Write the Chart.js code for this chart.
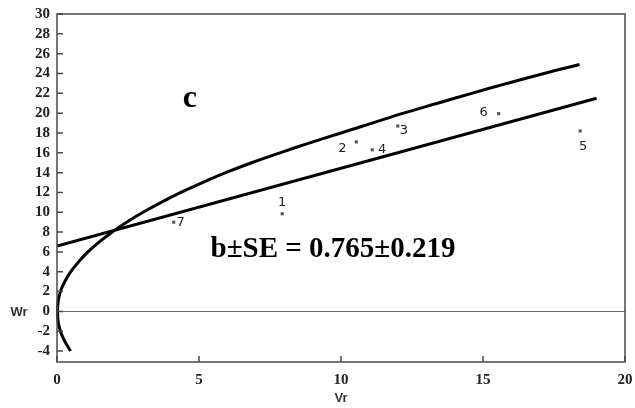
<!DOCTYPE html>
<html>
<head>
<meta charset="utf-8">
<script src="https://cdn.jsdelivr.net/npm/chart.js@4/dist/chart.umd.min.js"></script>
<style>
  html, body { margin: 0; padding: 0; background: #fff; }
  #wrap { width: 635px; height: 408px; }
</style>
</head>
<body>
<div id="wrap"><canvas id="vrwr" width="635" height="408"></canvas></div>
<script>
// parents (array points)
var parentLabels = ['1', '2', '3', '4', '5', '6', '7'];
var parentVr = [7.93, 10.54, 12.0, 11.1, 18.42, 15.55, 4.11];
var parentWr = [9.85, 17.1, 18.7, 16.3, 18.2, 19.95, 9.0];

// regression line ends
var lineVr = [0, 19.0];
var lineWr = [6.6, 21.5];

// limiting parabola, points
var curveWr = [-4, -3, -2, -1, 0, 1, 2, 3, 4, 5, 6, 7, 8, 9, 10, 11, 12, 13, 14, 15, 16, 17, 18, 19, 20, 21, 22, 23, 24, 24.9];
var curveVr = [0.48, 0.27, 0.12, 0.04, 0.02, 0.04, 0.12, 0.27, 0.48, 0.76, 1.09, 1.48, 1.94, 2.45, 3.03, 3.67, 4.36, 5.12, 5.94, 6.85, 7.85, 8.9, 10.0, 11.1, 12.2, 13.4, 14.6, 15.85, 17.15, 18.4];

// axis ticks
var xTicks = [0, 5, 10, 15, 20];
var yTicks = [-4, -2, 0, 2, 4, 6, 8, 10, 12, 14, 16, 18, 20, 22, 24, 26, 28, 30];

// label offsets (px) for the parent numbers
var labelDx = [0, -14, 6, 10, 3, -15, 7];
var labelDy = [-11, 7, 5, 0, 16, -1, 0];

function pairs(xs, ys) {
    return xs.map(function (x, i) { return { x: x, y: ys[i] }; });
}

var extras = {
    id: 'extras',
    afterDraw: function (chart) {
        var ctx = chart.ctx;
        var a = chart.chartArea;
        var xs = chart.scales.x, ys = chart.scales.y;
        ctx.save();
        // frame
        ctx.strokeStyle = '#4a4a4a';
        ctx.lineWidth = 1.5;
        ctx.strokeRect(a.left, a.top, a.right - a.left, a.bottom - a.top);
        // inward ticks
        ctx.beginPath();
        yTicks.forEach(function (v) {
            var py = ys.getPixelForValue(v);
            ctx.moveTo(a.left, py);
            ctx.lineTo(a.left + 6, py);
        });
        xTicks.forEach(function (v) {
            var px = xs.getPixelForValue(v);
            ctx.moveTo(px, a.bottom);
            ctx.lineTo(px, a.bottom - 6);
        });
        ctx.stroke();

        // parent numbers
        ctx.fillStyle = '#222';
        ctx.font = '13px "DejaVu Sans", "Liberation Sans", sans-serif';
        ctx.textAlign = 'center';
        ctx.textBaseline = 'middle';
        parentLabels.forEach(function (t, i) {
            var px = xs.getPixelForValue(parentVr[i]) + labelDx[i];
            var py = ys.getPixelForValue(parentWr[i]) + labelDy[i];
            ctx.fillText(t, px, py);
        });

        // axis names
        ctx.fillStyle = '#333';
        ctx.font = 'bold 13px "Liberation Sans", Arial, sans-serif';
        ctx.fillText('Wr', 19, ys.getPixelForValue(0) + 1);
        ctx.fillText('Vr', xs.getPixelForValue(10), 398);

        // panel letter and slope text
        ctx.fillStyle = '#000';
        ctx.font = 'bold 32px "Liberation Serif", "Times New Roman", serif';
        ctx.fillText('c', xs.getPixelForValue(4.68), ys.getPixelForValue(21.5));
        ctx.font = 'bold 29px "Liberation Serif", "Times New Roman", serif';
        ctx.fillText('b\u00b1SE = 0.765\u00b10.219', xs.getPixelForValue(9.72), ys.getPixelForValue(6.2));
        ctx.restore();
    }
};

var tickFont = { family: '"Liberation Serif", "Times New Roman", serif', size: 15, weight: 'bold' };

var chart = new Chart(document.getElementById('vrwr').getContext('2d'), {
    type: 'scatter',
    data: {
        datasets: [
            {
                label: 'parents',
                data: pairs(parentVr, parentWr),
                pointStyle: 'rect',
                pointRadius: 2.2,
                backgroundColor: '#555',
                borderColor: '#555',
                borderWidth: 0,
                showLine: false
            },
            {
                label: 'regression',
                data: pairs(lineVr, lineWr),
                showLine: true,
                borderColor: '#000',
                borderWidth: 3,
                pointRadius: 0
            },
            {
                label: 'parabola',
                data: pairs(curveVr, curveWr),
                showLine: true,
                tension: 0.4,
                borderColor: '#000',
                borderWidth: 3,
                pointRadius: 0,
                clip: false
            }
        ]
    },
    options: {
        responsive: false,
        animation: false,
        devicePixelRatio: 1,
        layout: { padding: { top: 14, right: 10, left: 0, bottom: 0 } },
        plugins: {
            legend: { display: false },
            tooltip: { enabled: false }
        },
        scales: {
            x: {
                type: 'linear',
                min: 0,
                max: 20,
                afterBuildTicks: function (scale) {
                    scale.ticks = xTicks.map(function (v) { return { value: v }; });
                },
                afterFit: function (scale) {
                    scale.height = 46;
                    scale.paddingLeft = 0;
                    scale.paddingRight = 0;
                },
                grid: { display: false, drawTicks: false },
                border: { display: false },
                ticks: { padding: 9, maxRotation: 0, autoSkip: false, color: '#222', font: tickFont }
            },
            y: {
                type: 'linear',
                min: -5.1,
                max: 30,
                afterBuildTicks: function (scale) {
                    scale.ticks = yTicks.map(function (v) { return { value: v }; });
                },
                afterFit: function (scale) {
                    scale.width = 57;
                    scale.paddingTop = 0;
                    scale.paddingBottom = 0;
                },
                grid: {
                    drawTicks: false,
                    lineWidth: 1,
                    color: function (c) { return c.tick && c.tick.value === 0 ? '#666' : 'rgba(0,0,0,0)'; }
                },
                border: { display: false },
                ticks: { padding: 7, autoSkip: false, color: '#222', font: tickFont }
            }
        }
    },
    plugins: [extras]
});
</script>
</body>
</html>
